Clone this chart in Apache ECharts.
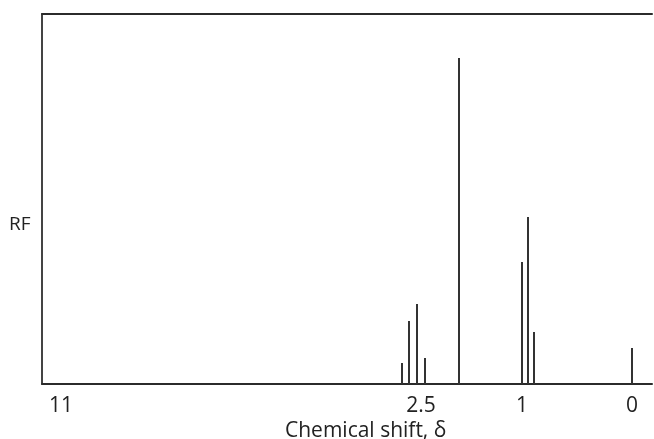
<!DOCTYPE html>
<html>
<head>
<meta charset="utf-8">
<script src="https://cdn.jsdelivr.net/npm/echarts@6/dist/echarts.min.js"></script>
<style>
  html, body { margin: 0; padding: 0; background: #fff; }
  #box1 { width: 654px; height: 439px; }
</style>
</head>
<body>
<div id="box1"></div>
<script>
// schematic x position of each peak along the axis (axis units, not δ; the drawing is not to scale)
var peakPos = [360, 367, 375, 383, 417, 480, 486, 492, 590];
var peakHeight = [21, 63, 80, 26, 326, 122, 167, 52, 36];
// tick positions on the same axis and their δ labels
var tickPos = [19, 379, 480, 590];
var tickLabels = ['11', '2.5', '1', '0'];

var myChart1 = echarts.init(document.getElementById('box1'));

var peaks = [];
for (var i = 0; i < peakPos.length; i++) {
  peaks.push([peakPos[i], peakHeight[i]]);
}

var option = {
  backgroundColor: '#fff',
  animation: false,
  grid: {
    left: 42,
    right: 2,
    top: 14,
    bottom: 55
  },
  xAxis: [{
    type: 'value',
    min: 0,
    max: 610,
    axisLine: { show: true, lineStyle: { color: '#2b2b2b', width: 2 } },
    axisTick: { show: false },
    splitLine: { show: false },
    axisLabel: {
      customValues: tickPos,
      margin: 12,
      color: '#222',
      fontSize: 21,
      fontFamily: 'Open Sans',
      formatter: function (v) {
        var k = tickPos.indexOf(v);
        return k >= 0 ? tickLabels[k] : '';
      }
    }
  }, {
    type: 'value',
    position: 'top',
    min: 0,
    max: 610,
    axisLine: { show: true, lineStyle: { color: '#2b2b2b', width: 2 } },
    axisTick: { show: false },
    axisLabel: { show: false },
    splitLine: { show: false }
  }],
  yAxis: {
    type: 'value',
    min: 0,
    max: 370,
    axisLine: { show: true, lineStyle: { color: '#444', width: 2 } },
    axisTick: { show: false },
    axisLabel: { show: false },
    splitLine: { show: false }
  },
  graphic: [{
    type: 'text',
    left: 9,
    top: 215,
    style: { text: 'RF', fill: '#222', fontSize: 19, fontFamily: 'Open Sans' }
  }, {
    type: 'text',
    left: 285,
    top: 421,
    style: { text: 'Chemical shift, δ', fill: '#222', fontSize: 21, fontFamily: 'Open Sans' }
  }],
  series: [{
    type: 'bar',
    xAxisIndex: 0,
    barWidth: 2,
    itemStyle: { color: '#333' },
    data: peaks
  }]
};

myChart1.setOption(option);
</script>
</body>
</html>
